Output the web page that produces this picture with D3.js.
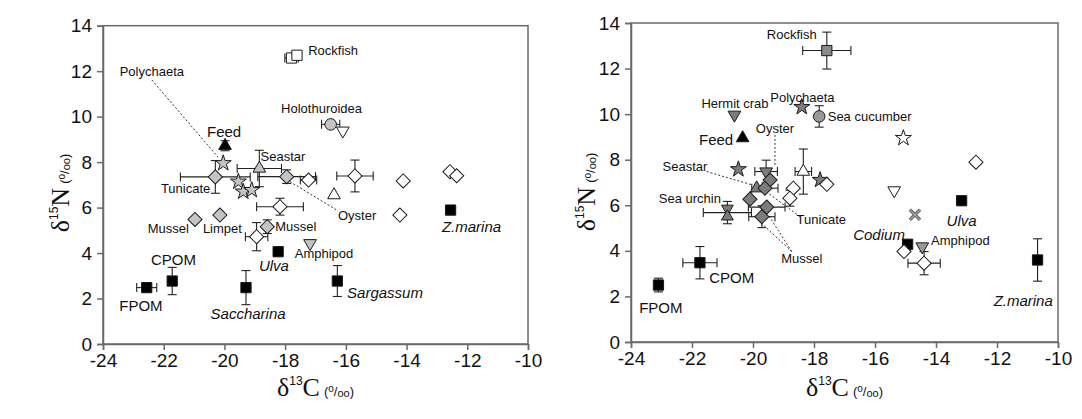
<!DOCTYPE html>
<html><head><meta charset="utf-8">
<script src="https://cdn.jsdelivr.net/npm/d3@7"></script>
<style>body{margin:0;background:#fff}svg{display:block}</style>
</head><body>
<svg id="c" width="1082" height="419"></svg>
<script>
// ---------- DATA ----------
const xTicks = [-24,-22,-20,-18,-16,-14,-12,-10];
const yTicks = [0,2,4,6,8,10,12,14];

// [name, group, d13C, d15N, errC, errN]
const leftPoints = [
  ["FPOM","source",-22.56,2.48,0.33,0],
  ["CPOM","source",-21.72,2.77,0,0.6],
  ["Saccharina","source",-19.29,2.48,0,0.75],
  ["Ulva","source",-18.23,4.06,0,0],
  ["Sargassum","source",-16.28,2.77,0,0.68],
  ["Z.marina","source",-12.55,5.89,0,0],
  ["Feed","feed",-19.98,8.72,0,0.22],
  ["Rockfish","openSquare",-17.79,12.58,0.22,0],
  ["Rockfish","openSquare",-17.61,12.70,0,0],
  ["Holothuroidea","holothurian",-16.50,9.66,0.3,0],
  ["","openTriDown",-16.10,9.38,0,0],
  ["Tunicate","tunicate",-20.30,7.35,1.15,0.72],
  ["Seastar","seastar",-18.85,7.72,0.73,0.8],
  ["Oyster","bivalve",-17.95,7.36,0.95,0.3],
  ["","openDiamond",-17.23,7.21,0.27,0],
  ["","openDiamond",-18.17,6.04,0.77,0.37],
  ["","openDiamond",-15.70,7.39,0.6,0.7],
  ["","openTriangle",-16.39,6.55,0,0],
  ["","openDiamond",-14.11,7.17,0,0],
  ["","openDiamond",-12.57,7.58,0,0],
  ["","openDiamond",-12.35,7.40,0,0],
  ["Oyster","openDiamond",-14.22,5.67,0,0],
  ["Polychaeta","polychaete",-20.04,7.95,0,0],
  ["","polychaete",-19.54,7.14,0,0],
  ["","polychaete",-19.38,6.70,0,0],
  ["","polychaete",-19.10,6.77,0,0],
  ["Mussel","bivalve",-20.97,5.48,0,0],
  ["Limpet","bivalve",-20.15,5.67,0,0],
  ["","openDiamond",-18.94,4.72,0.37,0.62],
  ["Mussel","bivalve",-18.59,5.16,0,0.3],
  ["Amphipod","amphipod",-17.18,4.43,0,0]
];

const rightPoints = [
  ["FPOM","source",-23.10,2.50,0,0.3],
  ["CPOM","source",-21.74,3.48,0.56,0.71],
  ["Ulva","source",-13.16,6.20,0,0],
  ["Codium","source",-14.93,4.29,0,0],
  ["Z.marina","source",-10.67,3.60,0,0.93],
  ["Feed","feed",-20.34,8.95,0,0],
  ["Rockfish","rockfish",-17.58,12.79,0.79,0.81],
  ["Hermit crab","hermit",-20.61,9.97,0,0],
  ["Polychaeta","polychaete",-18.40,10.31,0,0],
  ["Sea cucumber","holothurian",-17.83,9.90,0,0.47],
  ["","openStar",-15.07,8.95,0,0],
  ["","openDiamond",-12.69,7.89,0,0],
  ["","openTriDown",-15.37,6.65,0,0],
  ["","cross",-14.69,5.58,0,0],
  ["","openDiamond",-15.05,3.97,0,0],
  ["Amphipod","amphipod",-14.45,4.19,0,0],
  ["","openDiamond",-14.39,3.46,0.53,0.51],
  ["","polychaete",-17.80,7.11,0,0],
  ["","openDiamond",-17.58,6.92,0,0],
  ["Seastar","polychaete",-20.48,7.58,0,0],
  ["Oyster","hermit",-19.57,7.48,0.37,0.5],
  ["","openTriangle",-18.35,7.48,0.27,0.99],
  ["","openDiamond",-18.68,6.75,0,0],
  ["","openDiamond",-18.79,6.31,0,0.35],
  ["","seastar",-19.88,6.75,0,0],
  ["","bivalve",-19.44,7.11,0,0],
  ["","bivalve",-19.61,6.75,0.43,0],
  ["","bivalve",-20.10,6.27,0,0],
  ["Tunicate","bivalve",-19.55,5.92,0.6,0],
  ["Mussel","bivalve",-19.71,5.50,0.43,0.48],
  ["Sea urchin","urchin",-20.84,5.68,0.79,0.49]
];

// [text, d13C, d15N (baseline), anchor, kind]
const leftLabels = [
  ["Polychaeta",-22.39,11.79,"middle","taxon"],
  ["Feed",-20.01,9.12,"middle","big"],
  ["Tunicate",-21.28,6.64,"middle","taxon"],
  ["Seastar",-18.07,8.03,"middle","taxon"],
  ["Rockfish",-17.24,12.73,"start","taxon"],
  ["Holothuroidea",-16.80,10.14,"middle","taxon"],
  ["Oyster",-15.63,5.47,"middle","taxon"],
  ["Z.marina",-11.86,4.93,"middle","plant"],
  ["Mussel",-21.17,4.88,"end","taxon"],
  ["Limpet",-20.71,4.90,"start","taxon"],
  ["Mussel",-18.33,4.97,"start","taxon"],
  ["CPOM",-21.68,3.47,"middle","big"],
  ["FPOM",-22.75,1.43,"middle","big"],
  ["Saccharina",-19.22,1.12,"middle","plant"],
  ["Ulva",-18.37,3.21,"middle","plant"],
  ["Amphipod",-16.72,3.80,"middle","taxon"],
  ["Sargassum",-15.96,2.02,"start","plant"]
];
const rightLabels = [
  ["Rockfish",-18.73,13.28,"middle","taxon"],
  ["Polychaeta",-18.38,10.52,"middle","taxon"],
  ["Hermit crab",-20.59,10.28,"middle","taxon"],
  ["Sea cucumber",-17.55,9.71,"start","taxon"],
  ["Feed",-20.65,8.63,"end","big"],
  ["Oyster",-19.28,9.19,"middle","taxon"],
  ["Seastar",-22.23,7.51,"middle","taxon"],
  ["Sea urchin",-22.07,6.10,"middle","taxon"],
  ["Tunicate",-18.57,5.16,"start","taxon"],
  ["Mussel",-18.40,3.48,"middle","taxon"],
  ["CPOM",-20.70,2.58,"middle","big"],
  ["FPOM",-23.02,1.27,"middle","big"],
  ["Ulva",-13.16,5.09,"middle","plant"],
  ["Codium",-15.02,4.48,"end","plant"],
  ["Amphipod",-14.16,4.25,"start","taxon"],
  ["Z.marina",-11.14,1.58,"middle","plant"]
];

// leader lines [x1,y1,x2,y2]
const leftLeaders = [
  [-22.39,11.61,-20.21,8.22],
  [-17.84,7.14,-16.30,5.89]
];
const rightLeaders = [
  [-21.52,7.48,-20.04,6.90],
  [-19.28,9.09,-19.28,7.70],
  [-18.46,5.50,-19.50,6.53],
  [-18.73,3.97,-19.50,5.58],
  [-18.73,3.97,-19.77,5.27]
];

// ---------- STYLE / LAYOUT ----------
const layout = [
  {x0:103,x1:528,y0:344,y1:25.7,ylabX:69,ylabY:193},
  {x0:631,x1:1058,y0:342,y1:23,ylabX:595,ylabY:192}
];
const light = "#c4c4c4", dark = "#7c7c7c";
const styleLeft = {
  source:["square","#000"], feed:["tri","#000"], openSquare:["square","#fff"],
  holothurian:["circle",light], openTriDown:["triDown","#fff"], tunicate:["diamond",light],
  seastar:["tri",light], bivalve:["diamond",light], openDiamond:["diamond","#fff"],
  openTriangle:["tri","#fff"], polychaete:["star",light], amphipod:["triDown",light]
};
const styleRight = {
  source:["square","#000"], feed:["tri","#000"], rockfish:["square","#8a8a8a"],
  hermit:["triDown",dark], polychaete:["star",dark], holothurian:["circle","#999"],
  openStar:["star","#fff"], openDiamond:["diamond","#fff"], openTriDown:["triDown","#fff"],
  cross:["cross","#777"], amphipod:["triDown","#999"], openTriangle:["tri","#fff"],
  seastar:["tri",dark], bivalve:["diamond",dark], urchin:["hourglass",dark]
};
const labelFont = {
  taxon:{size:13,style:"normal"}, big:{size:15,style:"normal"}, plant:{size:15,style:"italic"}
};

const svg = d3.select("#c");
const SANS = "'Liberation Sans', Arial, sans-serif";
const SERIF = "'Liberation Serif', 'Times New Roman', serif";

function marker(g, shape, fill, px, py) {
  const stroke = "#1a1a1a";
  const add = (type, size, rot, dy) => g.append("path")
      .attr("d", d3.symbol(type, size)())
      .attr("transform", `translate(${px},${py + (dy||0)}) rotate(${rot||0})`)
      .attr("fill", fill).attr("stroke", stroke).attr("stroke-width", 1);
  switch (shape) {
    case "square": add(d3.symbolSquare, 105); break;
    case "diamond": add(d3.symbolSquare, 100, 45); break;
    case "tri": add(d3.symbolTriangle, 70); break;
    case "triDown": add(d3.symbolTriangle, 70, 180); break;
    case "star": add(d3.symbolStar, 80); break;
    case "circle": add(d3.symbolCircle, 105); break;
    case "hourglass": add(d3.symbolTriangle, 60, 180, -4); add(d3.symbolTriangle, 60, 0, 4); break;
    case "cross":
      g.append("path").attr("d", d3.symbol(d3.symbolTimes, 70)())
        .attr("transform", `translate(${px},${py})`)
        .attr("fill", "none").attr("stroke", "#555").attr("stroke-width", 3.2);
      g.append("path").attr("d", d3.symbol(d3.symbolTimes, 70)())
        .attr("transform", `translate(${px},${py})`)
        .attr("fill", "none").attr("stroke", "#aaa").attr("stroke-width", 1.2);
      break;
  }
}

function panel(L, points, labels, leaders, style) {
  const x = d3.scaleLinear().domain([-24,-10]).range([L.x0, L.x1]);
  const y = d3.scaleLinear().domain([0,14]).range([L.y0, L.y1]);
  const g = svg.append("g");

  g.append("rect").attr("x", L.x0).attr("y", L.y1)
    .attr("width", L.x1 - L.x0).attr("height", L.y0 - L.y1)
    .attr("fill", "none").attr("stroke", "#6a6a6a").attr("stroke-width", 1.5);

  const ax = g.append("g").attr("transform", `translate(0,${L.y0})`)
    .call(d3.axisBottom(x).tickValues(xTicks).tickSize(6).tickPadding(4).tickFormat(d3.format("d")));
  const ay = g.append("g").attr("transform", `translate(${L.x0},0)`)
    .call(d3.axisLeft(y).tickValues(yTicks).tickSize(6).tickPadding(5).tickFormat(d3.format("d")));
  [ax, ay].forEach(a => {
    a.select(".domain").attr("stroke", "#6a6a6a").attr("stroke-width", 1.5);
    a.selectAll(".tick line").attr("stroke", "#6a6a6a").attr("stroke-width", 1.5);
    a.selectAll(".tick text").attr("font-family", SANS).attr("font-size", 19).attr("fill", "#111");
  });
  ax.selectAll(".tick text").text(d => d < 0 ? "-" + Math.abs(d) : d);

  g.selectAll(".lead").data(leaders).join("line")
    .attr("x1", d => x(d[0])).attr("y1", d => y(d[1]))
    .attr("x2", d => x(d[2])).attr("y2", d => y(d[3]))
    .attr("stroke", "#333").attr("stroke-width", 1).attr("stroke-dasharray", "2,2");

  const eb = g.append("g").attr("stroke", "#222").attr("stroke-width", 1.1);
  points.forEach(p => {
    const [ , , cx, cy, ex, ey] = p;
    if (ex > 0) {
      eb.append("line").attr("x1", x(cx - ex)).attr("x2", x(cx + ex)).attr("y1", y(cy)).attr("y2", y(cy));
      [cx - ex, cx + ex].forEach(v => eb.append("line").attr("x1", x(v)).attr("x2", x(v))
        .attr("y1", y(cy) - 4.5).attr("y2", y(cy) + 4.5));
    }
    if (ey > 0) {
      eb.append("line").attr("x1", x(cx)).attr("x2", x(cx)).attr("y1", y(cy - ey)).attr("y2", y(cy + ey));
      [cy - ey, cy + ey].forEach(v => eb.append("line").attr("y1", y(v)).attr("y2", y(v))
        .attr("x1", x(cx) - 4.5).attr("x2", x(cx) + 4.5));
    }
  });

  const mg = g.append("g");
  points.forEach(p => {
    const s = style[p[1]];
    marker(mg, s[0], s[1], x(p[2]), y(p[3]));
  });

  labels.forEach(l => {
    const f = labelFont[l[4]];
    g.append("text").attr("x", x(l[1])).attr("y", y(l[2]))
      .attr("text-anchor", l[3]).attr("font-family", SANS)
      .attr("font-size", f.size).attr("font-style", f.style).attr("fill", "#111")
      .text(l[0]);
  });

  const xt = g.append("text").attr("x", (L.x0 + L.x1) / 2).attr("y", 396)
    .attr("text-anchor", "middle").attr("fill", "#111");
  titleSpans(xt, "13", "C");
  const yt = g.append("text")
    .attr("transform", `translate(${L.ylabX},${L.ylabY}) rotate(-90)`)
    .attr("text-anchor", "middle").attr("fill", "#111");
  titleSpans(yt, "15", "N");
}

function titleSpans(t, iso, el) {
  t.append("tspan").attr("font-family", SERIF).attr("font-size", 26).text("δ");
  t.append("tspan").attr("font-family", SANS).attr("font-size", 12).attr("dy", -11).text(iso);
  t.append("tspan").attr("font-family", SERIF).attr("font-size", 26).attr("dy", 11).text(el);
  t.append("tspan").attr("font-family", SANS).attr("font-size", 13).attr("dx", 4).text("(");
  t.append("tspan").attr("font-family", SANS).attr("font-size", 10).attr("dy", -4).text("o");
  t.append("tspan").attr("font-family", SANS).attr("font-size", 13).attr("dy", 4).text("/");
  t.append("tspan").attr("font-family", SANS).attr("font-size", 11).attr("dy", 1).text("oo");
  t.append("tspan").attr("font-family", SANS).attr("font-size", 13).attr("dy", -1).text(")");
}

panel(layout[0], leftPoints, leftLabels, leftLeaders, styleLeft);
panel(layout[1], rightPoints, rightLabels, rightLeaders, styleRight);
</script>
</body></html>
